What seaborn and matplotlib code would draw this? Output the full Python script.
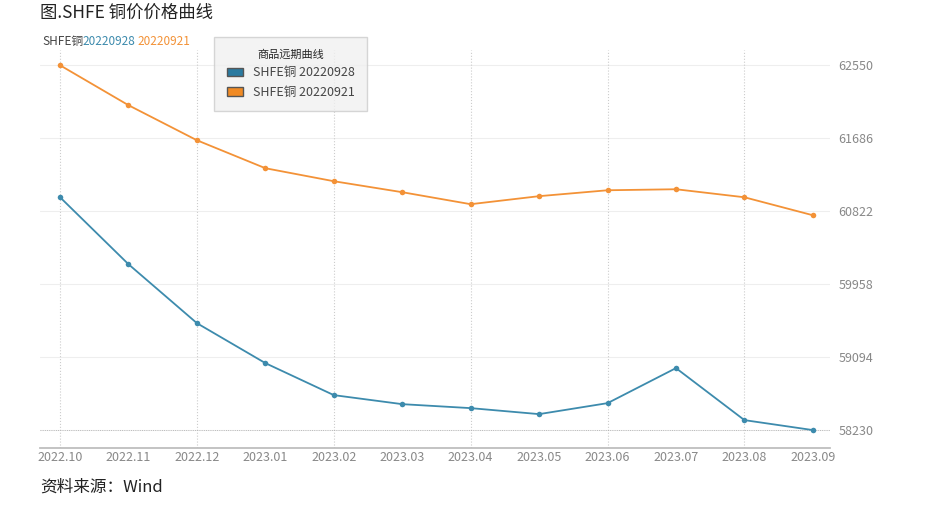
import matplotlib
matplotlib.use("Agg")
import matplotlib.pyplot as plt
import seaborn as sns
import pandas as pd
from matplotlib.patches import Patch

months = ["2022.10", "2022.11", "2022.12", "2023.01", "2023.02", "2023.03",
          "2023.04", "2023.05", "2023.06", "2023.07", "2023.08", "2023.09"]
s_0928 = [60987, 60194, 59496, 59023, 58644, 58537, 58490, 58419, 58549, 58964, 58348, 58230]
s_0921 = [62550, 62077, 61662, 61331, 61177, 61047, 60905, 61000, 61070, 61082, 60987, 60774]
yticks = [58230, 59094, 59958, 60822, 61686, 62550]

BLUE = "#3d8bad"
ORANGE = "#f39237"

sns.set_theme(style="white")
plt.rcParams["font.family"] = ["Noto Sans CJK SC", "DejaVu Sans"]

df = pd.DataFrame({"x": range(len(months)), "a": s_0928, "b": s_0921})

fig = plt.figure(figsize=(9.41, 5.18), dpi=100)
ax = fig.add_axes([0.042, 0.135, 0.84, 0.768])
sns.lineplot(data=df, x="x", y="b", ax=ax, color=ORANGE, marker="o", markersize=4,
             markeredgewidth=0, lw=1.3)
sns.lineplot(data=df, x="x", y="a", ax=ax, color=BLUE, marker="o", markersize=4,
             markeredgewidth=0, lw=1.3)

ax.set_xlim(-0.3, 11.25)
ax.set_ylim(58017, 62728)
ax.set_xticks(range(len(months)))
ax.set_xticklabels(months, color="#888888", fontsize=9)
ax.yaxis.tick_right()
ax.set_yticks(yticks)
ax.set_yticklabels([str(v) for v in yticks], color="#888888", fontsize=9)
ax.tick_params(axis="x", length=0, pad=2)
ax.tick_params(axis="y", length=0, pad=6)
ax.set_xlabel("")
ax.set_ylabel("")
for v in yticks:
    ax.axhline(v, color="#eeeeee", lw=0.8, zorder=0)
for i in range(0, len(months), 2):
    ax.axvline(i, color="#cccccc", lw=0.8, ls=":", zorder=0)
for s in ["top", "right", "left"]:
    ax.spines[s].set_visible(False)
ax.spines["bottom"].set_color("#bbbbbb")
ax.axhline(58230, color="#aaaaaa", lw=0.6, ls=":", zorder=0)

handles = [Patch(facecolor="#2a7aa0", edgecolor="#555555", label="SHFE铜 20220928"),
           Patch(facecolor="#f08a24", edgecolor="#555555", label="SHFE铜 20220921")]
leg = fig.legend(handles=handles, title="商品远期曲线", loc="upper left",
                 bbox_to_anchor=(0.221, 0.94), fontsize=9, title_fontsize=8,
                 frameon=True, fancybox=False, borderpad=1.0, handlelength=1.3,
                 labelcolor="#444444")
leg.get_frame().set_facecolor("#f0f0f0")
leg.get_frame().set_edgecolor("#cccccc")

fig.text(0.045, 0.913, "SHFE铜", fontsize=8.5, color="#444444")
fig.text(0.088, 0.913, "20220928", fontsize=8.5, color=BLUE)
fig.text(0.146, 0.913, "20220921", fontsize=8.5, color=ORANGE)
fig.text(0.043, 0.965, "图.SHFE 铜价价格曲线", fontsize=12.5, color="#222222")
fig.text(0.043, 0.05, "资料来源：Wind", fontsize=12, color="#222222")

fig.savefig("out.png", dpi=100)
